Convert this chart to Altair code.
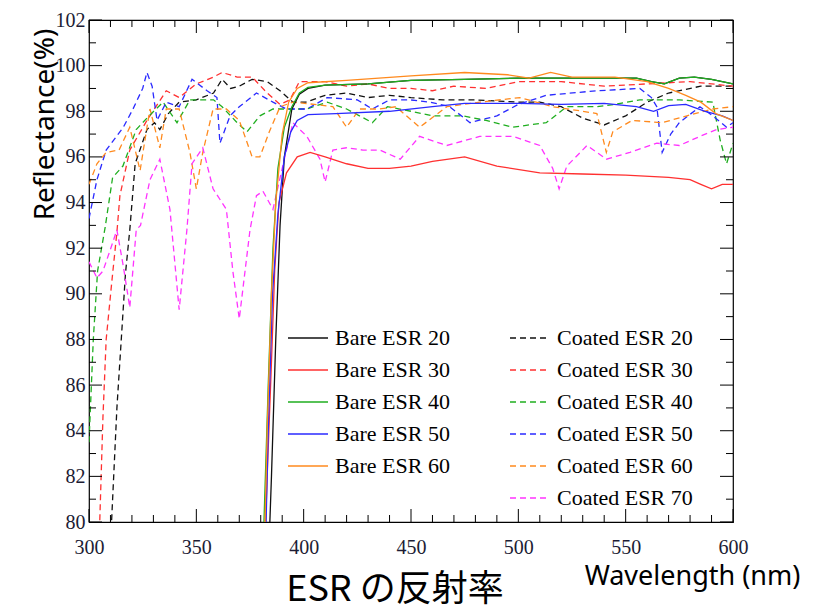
import altair as alt
import pandas as pd

# ---------------- data ----------------
bare20_x = [383.5, 385, 387, 389, 391, 394.5, 398, 402, 410, 430, 450, 475, 500, 530, 555,
            562, 568, 575, 582, 590, 600]
bare20_y = [78, 82, 88, 93, 96, 98.1, 98.75, 99.0, 99.15, 99.2, 99.35, 99.4, 99.45, 99.45, 99.45,
            99.3, 99.2, 99.45, 99.5, 99.4, 99.2]

bare30_x = [381.5, 383, 385, 386.5, 388.5, 392, 397, 403, 410, 420, 430, 440, 450, 460, 475, 490,
            510, 530, 550, 570, 580, 585, 590, 595, 600]
bare30_y = [78, 82, 87, 91, 94, 95.3, 96.0, 96.2, 96.0, 95.7, 95.5, 95.5, 95.6, 95.8, 96.0, 95.6,
            95.3, 95.25, 95.2, 95.1, 95.0, 94.8, 94.6, 94.8, 94.8]

bare40_x = [381, 381.5, 383.5, 385.7, 388, 391, 394.5, 398, 402, 410, 430, 450, 475, 500, 530, 555,
            562, 568, 575, 582, 590, 600]
bare40_y = [78, 80, 86, 92, 95.5, 97.3, 98.2, 98.8, 99.05, 99.15, 99.2, 99.35, 99.4, 99.45, 99.45, 99.45,
            99.3, 99.2, 99.45, 99.5, 99.4, 99.2]

bare50_x = [382, 383.5, 385.5, 388, 391, 394, 397, 402, 415, 440, 460, 475, 500, 520, 540, 555,
            563, 570, 578, 587, 595, 600]
bare50_y = [78, 84, 90, 93.5, 96, 97.1, 97.6, 97.85, 97.9, 98.0, 98.2, 98.35, 98.35, 98.3, 98.35, 98.2,
            98.0, 98.25, 98.3, 98.0, 97.8, 97.6]

bare60_x = [381.5, 383, 385, 387, 390, 393, 397, 402, 420, 450, 475, 495, 505, 515, 525, 545,
            560, 570, 578, 585, 592, 600]
bare60_y = [78, 84, 90, 94, 97, 98.4, 99.0, 99.25, 99.35, 99.55, 99.7, 99.6, 99.45, 99.7, 99.5, 99.5,
            99.3, 99.0, 98.7, 98.4, 97.9, 97.6]

coat20_x = [308, 310.5, 313, 317, 319, 321.5, 327, 330.5, 333, 337, 342, 350, 358, 362, 366, 370,
            376, 383, 389, 395, 401, 410, 420, 430, 440, 450, 465, 480, 500, 510, 520, 530,
            540, 550, 560, 570, 585, 600]
coat20_y = [70, 80, 85, 90.9, 92.8, 95.7, 97.2, 97.5, 97.2, 97.9, 98.4, 98.5, 98.8, 99.4, 99.0, 99.1,
            99.4, 99.3, 98.9, 98.4, 98.4, 98.7, 98.8, 98.6, 98.7, 98.6, 98.5, 98.5, 98.4, 98.4, 98.2, 97.7,
            97.4, 97.8, 98.4, 98.8, 99.1, 99.1]

coat30_x = [302, 304, 305, 306.5, 308, 310.7, 313, 314.4, 319, 327, 336, 342, 350, 358, 362, 369,
            376, 383, 389, 393.6, 398, 410, 420, 430, 440, 450, 460, 470, 485, 500, 520, 540,
            560, 580, 590, 600]
coat30_y = [70, 78, 80, 84.6, 88, 90.6, 92.7, 94.3, 96.3, 97.6, 98.9, 98.6, 99.2, 99.5, 99.7, 99.5,
            99.5, 98.8, 98.3, 98.5, 99.3, 99.3, 99.1, 99.2, 99.0, 99.0, 98.9, 99.1, 99.0, 99.3, 99.3, 99.1,
            99.2, 99.3, 99.2, 99.1]

coat40_x = [300, 302, 304, 307.5, 311, 315.8, 322, 328, 334.5, 341, 347, 353, 358, 362, 369, 373.6,
            379.6, 385.7, 392, 401.5, 411, 420, 432, 439, 450, 460, 474, 485, 497.5, 505, 513, 522.6,
            536.6, 545, 556.6, 575, 590.6, 594, 597, 600]
coat40_y = [83.5, 88, 91, 92.9, 95.1, 95.6, 97.2, 97.8, 98.4, 97.5, 98.5, 98.5, 98.5, 98.2, 97.5, 97.1,
            97.8, 98.1, 98.1, 98.1, 98.4, 98.1, 97.5, 98.2, 98.0, 97.8, 97.8, 97.6, 97.3, 97.4, 97.5, 98.2,
            98.2, 98.3, 98.5, 98.5, 98.4, 96.75, 95.7, 96.6]

coat50_x = [300, 303.7, 308, 316, 320.5, 325, 327, 329.4, 331.7, 336, 342, 348, 355, 359.6, 361, 365.7,
            370, 378, 385.7, 392, 401.5, 411, 425, 432, 440, 449.5, 459, 468, 477.5, 490, 500, 513,
            536.6, 556.6, 562, 564.5, 567, 571, 575, 584.6, 590.6, 597, 600]
coat50_y = [93.3, 95, 96.3, 97.3, 98.1, 99.0, 99.7, 99.1, 97.6, 98.4, 98.2, 99.4, 98.9, 98.6, 96.6, 97.8,
            98.2, 98.8, 98.4, 98.1, 98.1, 98.6, 98.5, 98.1, 98.5, 98.5, 98.4, 98.2, 97.5, 97.8, 98.3, 98.7,
            98.9, 99.0, 98.6, 98.2, 96.2, 97.0, 97.5, 98.2, 97.8, 97.3, 97.5]

coat60_x = [300, 303.7, 308, 314, 319, 323.8, 327, 328.4, 333, 336, 342, 347, 350, 353, 357.8, 364,
            370, 376, 379.6, 384, 389, 395, 405, 413.6, 420, 426, 435.5, 443, 454, 466.7, 482, 500.7,
            516, 530, 536.6, 541, 544, 553, 567, 578.5, 590.6, 600]
coat60_y = [94.8, 95.7, 96.2, 96.3, 97.3, 95.4, 97.3, 98.1, 96.4, 98.1, 98.1, 96.2, 94.6, 96.2, 98.1, 98.1,
            97.6, 96.0, 96.0, 97.1, 98.2, 98.4, 98.3, 98.2, 97.3, 98.1, 98.1, 98.2, 97.3, 98.2, 98.4, 98.6,
            98.2, 98.0, 97.9, 96.2, 97.1, 97.6, 97.5, 97.8, 98.1, 98.2]

coat70_x = [300, 303.7, 306.5, 309.8, 313, 316, 319, 322, 324, 328.4, 333, 337.7, 342, 345.6, 348, 353,
            357.8, 364, 367, 370, 375, 378, 381, 385.7, 390, 395, 401.5, 407.6, 410, 413.6, 420, 427.6,
            435.5, 445, 454, 466.7, 482, 497.5, 510, 516, 519, 522.6, 532, 541, 552, 564.5, 575, 584.6,
            592.5, 600]
coat70_y = [91.4, 90.7, 91.0, 91.9, 92.8, 91.2, 89.4, 92.8, 93.0, 95.0, 95.9, 93.7, 89.3, 92.8, 95.7, 96.4,
            94.6, 93.7, 91.0, 88.9, 92.8, 94.3, 94.5, 93.7, 95.5, 97.5, 96.9, 95.9, 94.9, 96.3, 96.4, 96.3,
            96.3, 95.9, 96.9, 96.5, 96.9, 96.9, 96.5, 95.5, 94.6, 95.6, 96.5, 95.9, 96.2, 96.6, 96.5, 96.9,
            97.2, 97.3]

bare_names = ["Bare ESR 20", "Bare ESR 30", "Bare ESR 40", "Bare ESR 50", "Bare ESR 60"]
bare_colors = ["#111111", "#ff3030", "#1fae1f", "#2a2aff", "#ff8a1e"]
coat_names = ["Coated ESR 20", "Coated ESR 30", "Coated ESR 40", "Coated ESR 50",
              "Coated ESR 60", "Coated ESR 70"]
coat_colors = ["#111111", "#ff3030", "#1fae1f", "#2a2aff", "#ff8a1e", "#ff33ff"]

x_labels = [300, 350, 400, 450, 500, 550, 600]
y_labels = [80, 82, 84, 86, 88, 90, 92, 94, 96, 98, 100, 102]
x_tick_values = list(range(300, 601, 10))
y_tick_values = list(range(80, 103, 1))

# ---------------- tables ----------------
def build(names, xs, ys):
    rows = []
    for n, xx, yy in zip(names, xs, ys):
        for i, (a, b) in enumerate(zip(xx, yy)):
            rows.append({"series": n, "wl": a, "r": b, "order": i})
    return pd.DataFrame(rows)

bare_df = build(bare_names, [bare20_x, bare30_x, bare40_x, bare50_x, bare60_x],
                [bare20_y, bare30_y, bare40_y, bare50_y, bare60_y])
coat_df = build(coat_names, [coat20_x, coat30_x, coat40_x, coat50_x, coat60_x, coat70_x],
                [coat20_y, coat30_y, coat40_y, coat50_y, coat60_y, coat70_y])

W, H = 644, 502
X0, X1, Y0, Y1 = 300, 600, 80, 102
MAJ, MIN = 13, 7                      # tick lengths in pixels
px_x = (X1 - X0) / W                  # data units per pixel
px_y = (Y1 - Y0) / H

# inward tick segments, expressed in data units of the two axes
xt_rows = []
for v in x_tick_values:
    L = (MAJ if v % 50 == 0 else MIN) * px_y
    xt_rows.append({"wl": v, "wl2": v, "r": Y0, "r2": Y0 + L})
    xt_rows.append({"wl": v, "wl2": v, "r": Y1, "r2": Y1 - L})
yt_rows = []
for v in y_tick_values:
    L = (MAJ if v % 2 == 0 else MIN) * px_x
    yt_rows.append({"wl": X0, "wl2": X0 + L, "r": v, "r2": v})
    yt_rows.append({"wl": X1, "wl2": X1 - L, "r": v, "r2": v})
ticks_df = pd.DataFrame(xt_rows + yt_rows)

xscale = alt.Scale(domain=[X0, X1], nice=False, zero=False)
yscale = alt.Scale(domain=[Y0, Y1], nice=False, zero=False)

x_axis = alt.Axis(values=x_labels, title="Wavelength (nm)", grid=False, ticks=False, domain=False,
                  labelFlush=False, labelOverlap=False,
                  labelFont="Liberation Serif", labelFontSize=20, labelColor="#1c1c34",
                  labelPadding=15, titleFont="Noto Sans", titleFontSize=27, titleFontWeight="normal",
                  titleColor="black", titleX=603, titleY=54, titleAlign="center", titleBaseline="middle")
y_axis = alt.Axis(values=y_labels, title="Reflectance(%)", grid=False, ticks=False, domain=False,
                  labelFlush=False, labelOverlap=False,
                  labelFont="Liberation Serif", labelFontSize=20, labelColor="#1c1c34",
                  labelPadding=4, titleFont="Noto Sans", titleFontSize=28, titleFontWeight="normal",
                  titleColor="black", titleAngle=-90, titleX=-44, titleY=104,
                  titleAlign="center", titleBaseline="middle")

X = alt.X("wl:Q", scale=xscale, axis=x_axis, title="Wavelength (nm)")
Y = alt.Y("r:Q", scale=yscale, axis=y_axis, title="Reflectance(%)")

LEG = dict(title=None, orient="none", legendY=297, symbolType="stroke", symbolSize=1600,
           symbolStrokeWidth=1.5, labelFont="Liberation Serif", labelFontSize=22,
           labelColor="black", labelOffset=6, rowPadding=0, padding=0)

coat = alt.Chart(coat_df).mark_line(clip=True, strokeWidth=1.3, strokeDash=[6, 4]).encode(
    x=X, y=Y,
    color=alt.Color("series:N", sort=coat_names,
                    scale=alt.Scale(domain=coat_names, range=coat_colors),
                    legend=alt.Legend(legendX=420, symbolDash=[6, 4], **LEG)),
    order="order:Q",
)

bare = alt.Chart(bare_df).mark_line(clip=True, strokeWidth=1.3).encode(
    x=X, y=Y,
    color=alt.Color("series:N", sort=bare_names,
                    scale=alt.Scale(domain=bare_names, range=bare_colors),
                    legend=alt.Legend(legendX=198, **LEG)),
    order="order:Q",
)

ticks = alt.Chart(ticks_df).mark_rule(color="black", strokeWidth=1).encode(
    x=X, x2="wl2:Q", y=Y, y2="r2:Q",
)

chart = alt.layer(coat, bare, ticks).resolve_scale(
    color="independent"
).properties(
    width=W, height=H,
    title=alt.TitleParams("ESR の反射率", orient="bottom", anchor="middle", frame="group",
                          font="Noto Sans CJK JP", fontSize=36, fontWeight="normal", color="black",
                          dx=-16, dy=-16, offset=0),
    autosize=alt.AutoSizeParams(type="none"),
    padding={"left": 89, "top": 20, "right": 102, "bottom": 92},
    background="white",
).configure_view(stroke="black", strokeWidth=1.2)

chart.save("out.html", embed_options={"renderer": "svg", "actions": False})
